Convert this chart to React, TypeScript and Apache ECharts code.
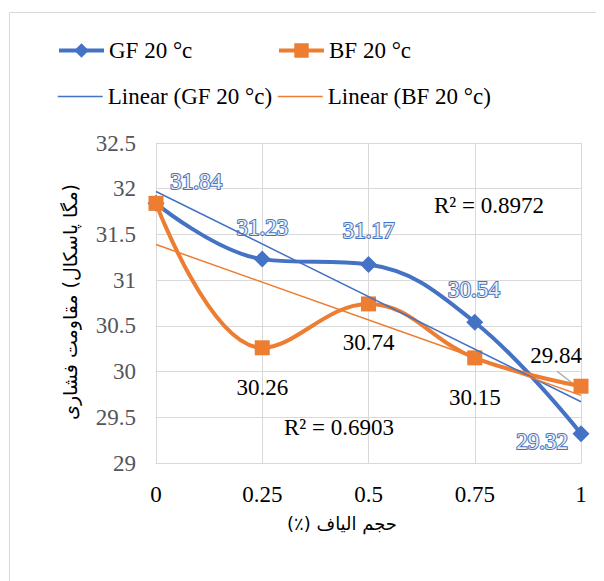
import React, { useEffect, useRef } from "react";
import * as echarts from "echarts";

const fiberVolume = [0, 0.25, 0.5, 0.75, 1];
const gfValues = [31.84, 31.23, 31.17, 30.54, 29.32];
const bfValues = [31.84, 30.26, 30.74, 30.15, 29.84];
const gfTrend = [31.97, 29.67]; // trendline values at x = 0 and x = 1
const bfTrend = [31.39, 29.74];
const trendX = [0, 1];
const gfR2 = "R² = 0.8972";
const bfR2 = "R² = 0.6903";
const seriesNames = ["GF 20 °c", "BF 20 °c", "Linear (GF 20 °c)", "Linear (BF 20 °c)"];
const yTitle = "\u200F(مگا پاسکال) مقاومت فشاری";
const xTitle = "\u200Fحجم الیاف (٪)\u200F";

// label offsets (styling only)
const gfLabelOffsets = [[40, -22], [0, -32], [0, -34], [-1, -33], [-39, 8]];
const bfLabelOffsets = [null, [0, 40], [0, 39], [0, 40], [-25, -31]];

const BLUE = "#4472C4";
const ORANGE = "#ED7D31";
const SERIF = "Liberation Serif";
const ARABIC = "DejaVu Sans";

export default function App() {
  const ref = useRef<HTMLDivElement>(null);
  useEffect(() => {
    if (!ref.current) return;
    const chart = echarts.init(ref.current, null, { renderer: "svg" });
    const mk = (vals: number[], offs: any[]) =>
      vals.map((v, i) => ({
        value: [fiberVolume[i], v],
        label: offs[i]
          ? { show: true, position: "inside", offset: offs[i] }
          : { show: false },
      }));
    const legendBase = {
      itemWidth: 45,
      itemHeight: 18,
      padding: 0,
      itemGap: 5,
      textStyle: { fontSize: 23, fontFamily: SERIF, color: "#000" },
    };
    chart.setOption({
      animation: false,
      legend: [
        { ...legendBase, data: [seriesNames[0]], left: 49, top: 31, lineStyle: { width: 4 } },
        { ...legendBase, data: [seriesNames[1]], left: 269, top: 31, lineStyle: { width: 4 } },
        { ...legendBase, data: [seriesNames[2]], left: 49, top: 77, itemStyle: { opacity: 0 }, lineStyle: { width: 1.5 } },
        { ...legendBase, data: [seriesNames[3]], left: 269, top: 77, itemStyle: { opacity: 0 }, lineStyle: { width: 1.5 } },
      ],
      grid: { left: 148, right: 23, top: 135, bottom: 118 },
      xAxis: {
        type: "value",
        min: 0,
        max: 1,
        interval: 0.25,
        axisLine: { show: true, lineStyle: { color: "#d9d9d9" } },
        axisTick: { show: false },
        splitLine: { show: true, lineStyle: { color: "#d9d9d9" } },
        axisLabel: { margin: 20, fontSize: 23, fontFamily: SERIF, color: "#000" },
      },
      yAxis: {
        type: "value",
        min: 29,
        max: 32.5,
        interval: 0.5,
        axisLine: { show: true, lineStyle: { color: "#d9d9d9" } },
        axisTick: { show: false },
        splitLine: { show: true, lineStyle: { color: "#d9d9d9" } },
        axisLabel: { margin: 20, fontSize: 23, fontFamily: SERIF },
      },
      series: [
        {
          name: seriesNames[2],
          type: "line",
          data: trendX.map((x, i) => [x, gfTrend[i]]),
          symbol: "none",
          lineStyle: { color: BLUE, width: 1.5 },
          itemStyle: { color: BLUE },
          z: 3,
        },
        {
          name: seriesNames[3],
          type: "line",
          data: trendX.map((x, i) => [x, bfTrend[i]]),
          symbol: "none",
          lineStyle: { color: ORANGE, width: 1.5 },
          itemStyle: { color: ORANGE },
          z: 3,
        },
        {
          name: seriesNames[0],
          type: "line",
          data: mk(gfValues, gfLabelOffsets),
          label: { fontSize: 23, fontFamily: SERIF, formatter: (p: any) => String(p.value[1]) },
          smooth: 0.4,
          symbol: "diamond",
          symbolSize: 17,
          lineStyle: { color: BLUE, width: 4 },
          itemStyle: { color: BLUE },
          z: 2,
        },
        {
          name: seriesNames[1],
          type: "line",
          data: mk(bfValues, bfLabelOffsets),
          label: { fontSize: 23, fontFamily: SERIF, color: "#000", formatter: (p: any) => String(p.value[1]) },
          smooth: 0.4,
          symbol: "rect",
          symbolSize: 15,
          lineStyle: { color: ORANGE, width: 4 },
          itemStyle: { color: ORANGE },
          z: 2,
        },
      ],
    });
    const pPt = chart.convertToPixel({ gridIndex: 0 }, [fiberVolume[4], bfValues[4]]) as number[];
    const off = bfLabelOffsets[4] as number[];
    chart.setOption({
      graphic: [
        {
          type: "rect",
          shape: { x: 1.5, y: 4.5, width: 592, height: 600 },
          style: { fill: "none", stroke: "#d9d9d9", lineWidth: 1 },
          silent: true,
          z: -10,
        },
        {
          type: "line",
          shape: { x1: pPt[0] + off[0] + 1, y1: pPt[1] + off[1] + 16, x2: pPt[0] - 2, y2: pPt[1] + 2 },
          style: { stroke: "#a6a6a6", lineWidth: 1.2 },
        },
        {
          type: "text",
          x: 481,
          y: 197,
          style: { text: gfR2, fontSize: 23, fontFamily: SERIF, fill: "#000", align: "center", verticalAlign: "middle" },
        },
        {
          type: "text",
          x: 331,
          y: 419,
          style: { text: bfR2, fontSize: 23, fontFamily: SERIF, fill: "#000", align: "center", verticalAlign: "middle" },
        },
        {
          type: "text",
          x: 62,
          y: 294,
          rotation: Math.PI / 2,
          style: { text: yTitle, fontSize: 19, fontFamily: ARABIC, fill: "#000", align: "center", verticalAlign: "middle" },
        },
        {
          type: "text",
          x: 334,
          y: 515,
          style: { text: xTitle, fontSize: 18, fontFamily: ARABIC, fill: "#000", align: "center", verticalAlign: "middle" },
        },
      ],
    });
    return () => chart.dispose();
  }, []);
  return <div ref={ref} style={{ width: 596, height: 573 }} />;
}
